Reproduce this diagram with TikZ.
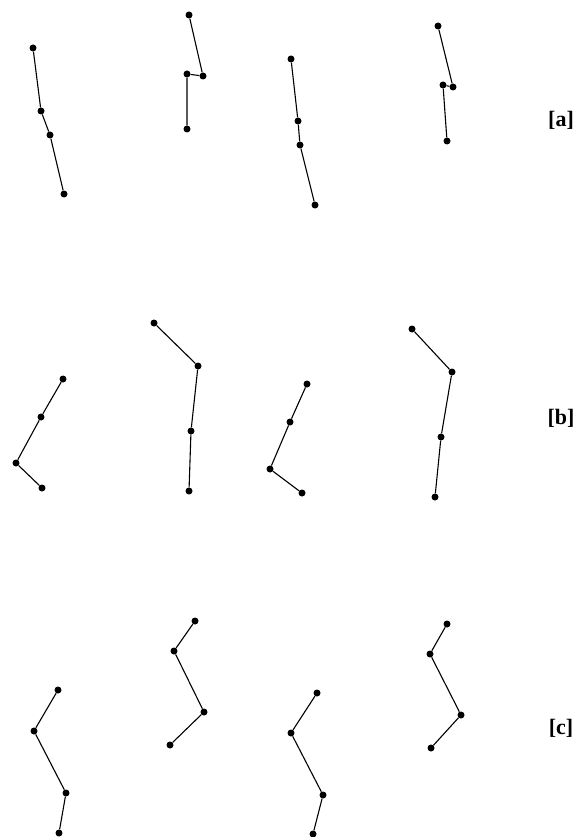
\documentclass[tikz,border=0pt]{standalone}
\usepackage{fontspec}
\setmainfont{Liberation Serif}
\usepackage{tikz}
\tikzset{
  joint/.style={circle, fill=black, draw=none, inner sep=0pt, minimum size=7pt},
  bone/.style={line width=1.1pt},
  tag/.style={font=\fontsize{22}{26}\selectfont\bfseries, inner sep=0pt}
}

\begin{document}
\begin{tikzpicture}[x=1pt, y=-1pt]
\useasboundingbox (0,0) rectangle (578,837);
% row a
\node[joint] (a11) at (33,48) {};
\node[joint] (a12) at (41,111) {};
\node[joint] (a13) at (50,135) {};
\node[joint] (a14) at (64,194) {};
\node[joint] (a21) at (189,15) {};
\node[joint] (a22) at (203,76) {};
\node[joint] (a23) at (187,74) {};
\node[joint] (a24) at (187,129) {};
\node[joint] (a31) at (291,59) {};
\node[joint] (a32) at (298,121) {};
\node[joint] (a33) at (300,145) {};
\node[joint] (a34) at (315,205) {};
\node[joint] (a41) at (438,26) {};
\node[joint] (a42) at (453,87) {};
\node[joint] (a43) at (443,85) {};
\node[joint] (a44) at (447,141) {};
\node[tag] (taga) at (561,120) {[a]};
\draw[bone] (a11) -- (a12) -- (a13) -- (a14);
\draw[bone] (a21) -- (a22) -- (a23) -- (a24);
\draw[bone] (a31) -- (a32) -- (a33) -- (a34);
\draw[bone] (a41) -- (a42) -- (a43) -- (a44);
% row b
\node[joint] (b11) at (63,379) {};
\node[joint] (b12) at (41,417) {};
\node[joint] (b13) at (16,463) {};
\node[joint] (b14) at (42,488) {};
\node[joint] (b21) at (154,323) {};
\node[joint] (b22) at (198,366) {};
\node[joint] (b23) at (191,431) {};
\node[joint] (b24) at (189,491) {};
\node[joint] (b31) at (307,384) {};
\node[joint] (b32) at (290,422) {};
\node[joint] (b33) at (270,469) {};
\node[joint] (b34) at (302,493) {};
\node[joint] (b41) at (412,329) {};
\node[joint] (b42) at (452,372) {};
\node[joint] (b43) at (441,437) {};
\node[joint] (b44) at (435,497) {};
\node[tag] (tagb) at (561,418) {[b]};
\draw[bone] (b11) -- (b12) -- (b13) -- (b14);
\draw[bone] (b21) -- (b22) -- (b23) -- (b24);
\draw[bone] (b31) -- (b32) -- (b33) -- (b34);
\draw[bone] (b41) -- (b42) -- (b43) -- (b44);
% row c
\node[joint] (c11) at (58,690) {};
\node[joint] (c12) at (34,731) {};
\node[joint] (c13) at (66,793) {};
\node[joint] (c14) at (59,833) {};
\node[joint] (c21) at (195,621) {};
\node[joint] (c22) at (174,651) {};
\node[joint] (c23) at (204,712) {};
\node[joint] (c24) at (170,745) {};
\node[joint] (c31) at (317,693) {};
\node[joint] (c32) at (291,733) {};
\node[joint] (c33) at (323,795) {};
\node[joint] (c34) at (313,834) {};
\node[joint] (c41) at (447,624) {};
\node[joint] (c42) at (430,654) {};
\node[joint] (c43) at (461,715) {};
\node[joint] (c44) at (431,748) {};
\node[tag] (tagc) at (561,728) {[c]};
\draw[bone] (c11) -- (c12) -- (c13) -- (c14);
\draw[bone] (c21) -- (c22) -- (c23) -- (c24);
\draw[bone] (c31) -- (c32) -- (c33) -- (c34);
\draw[bone] (c41) -- (c42) -- (c43) -- (c44);
\end{tikzpicture}
\end{document}
